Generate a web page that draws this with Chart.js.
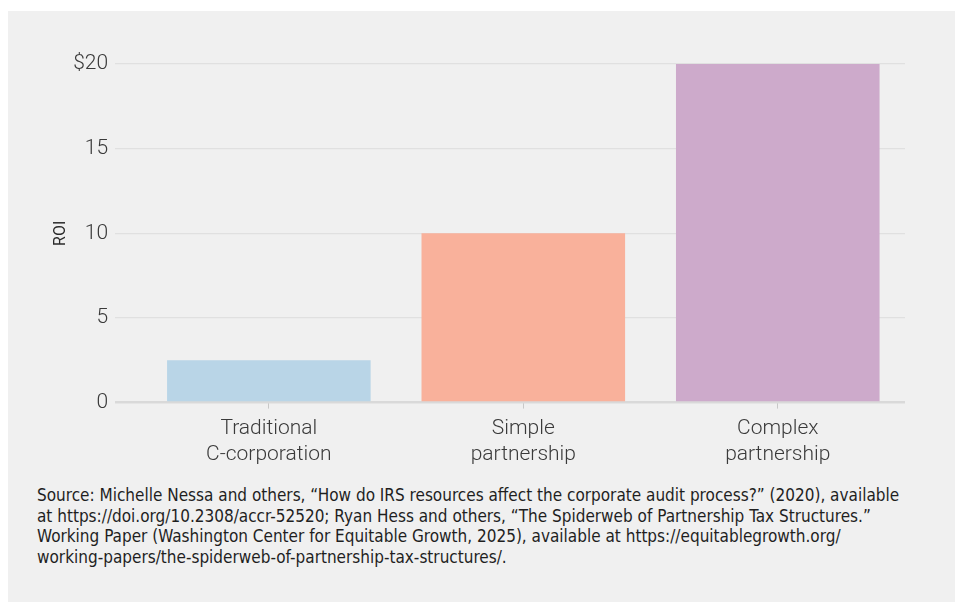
<!DOCTYPE html>
<html>
<head>
<meta charset="utf-8">
<script src="https://cdn.jsdelivr.net/npm/chart.js@4.4.1/dist/chart.umd.min.js"></script>
<style>
  html, body { margin: 0; padding: 0; background: #ffffff; }
  body { width: 955px; height: 602px; position: relative; overflow: hidden; }
  .panel { position: absolute; left: 8px; top: 11px; right: 0; bottom: 0; background: #f0f0f0; }
  .chart-wrap { position: absolute; left: 0; top: 0; width: 955px; height: 478px; }
  .source {
    position: absolute; left: 37px; top: 485px; width: 900px;
    font-family: 'Liberation Sans Narrow', 'DejaVu Sans Condensed', sans-serif;
    font-size: 17px; line-height: 20.7px; color: #1f1f1f; white-space: nowrap;
  }
</style>
</head>
<body>
<div class="panel"></div>
<div class="chart-wrap"><canvas id="roiChart"></canvas></div>
<div class="source">
  Source: Michelle Nessa and others, “How do IRS resources affect the corporate audit process?” (2020), available<br>
  at https://doi.org/10.2308/accr-52520; Ryan Hess and others, “The Spiderweb of Partnership Tax Structures.”<br>
  Working Paper (Washington Center for Equitable Growth, 2025), available at https://equitablegrowth.org/<br>
  working-papers/the-spiderweb-of-partnership-tax-structures/.
</div>
<script>
const categories = [['Traditional', 'C-corporation'], ['Simple', 'partnership'], ['Complex', 'partnership']];
const roiValues = [2.5, 10, 20];
const barColors = ['#b9d5e7', '#f9b19b', '#cdaacb'];
const yTicks = [0, 5, 10, 15, 20];

Chart.defaults.font.family = 'Roboto, sans-serif';
Chart.defaults.color = '#3a3a3a';

new Chart(document.getElementById('roiChart'), {
  type: 'bar',
  data: {
    datasets: [{
      data: roiValues.map((v, i) => ({ x: i, y: v })),
      backgroundColor: barColors,
      borderWidth: 0,
      barPercentage: 0.8,
      categoryPercentage: 1.0,
    }]
  },
  options: {
    responsive: true,
    maintainAspectRatio: false,
    animation: false,
    layout: { padding: { top: 64, right: 50, bottom: 3, left: 51 } },
    plugins: { legend: { display: false }, tooltip: { enabled: false } },
    scales: {
      x: {
        type: 'linear',
        offset: false,
        min: -0.604,
        max: 2.5,
        afterBuildTicks: scale => { scale.ticks = categories.map((c, i) => ({ value: i })); },
        grid: { offset: false, drawOnChartArea: false, drawTicks: true, tickLength: 6, color: '#c8c8c8', lineWidth: 1 },
        border: { display: false },
        ticks: {
          font: { size: 21, weight: 300 },
          color: '#3a3a3a',
          padding: 8,
          maxRotation: 0,
          autoSkip: false,
          callback: v => categories[v]
        }
      },
      y: {
        min: 0,
        max: 20,
        afterBuildTicks: scale => { scale.ticks = yTicks.map(v => ({ value: v })); },
        grid: {
          drawTicks: false,
          color: ctx => ctx.tick && ctx.tick.value === 0 ? '#d9d9d9' : '#e0e0e0',
          lineWidth: ctx => ctx.tick && ctx.tick.value === 0 ? 2.5 : 1.3
        },
        border: { display: false },
        title: { display: true, text: 'ROI', font: { size: 16 }, color: '#2a2a2a', padding: { top: 0, bottom: -4 } },
        ticks: {
          font: { size: 21, weight: 300 },
          color: '#3a3a3a',
          padding: 7,
          callback: v => v === 20 ? '$20' : v
        }
      }
    }
  }
});
</script>
</body>
</html>
